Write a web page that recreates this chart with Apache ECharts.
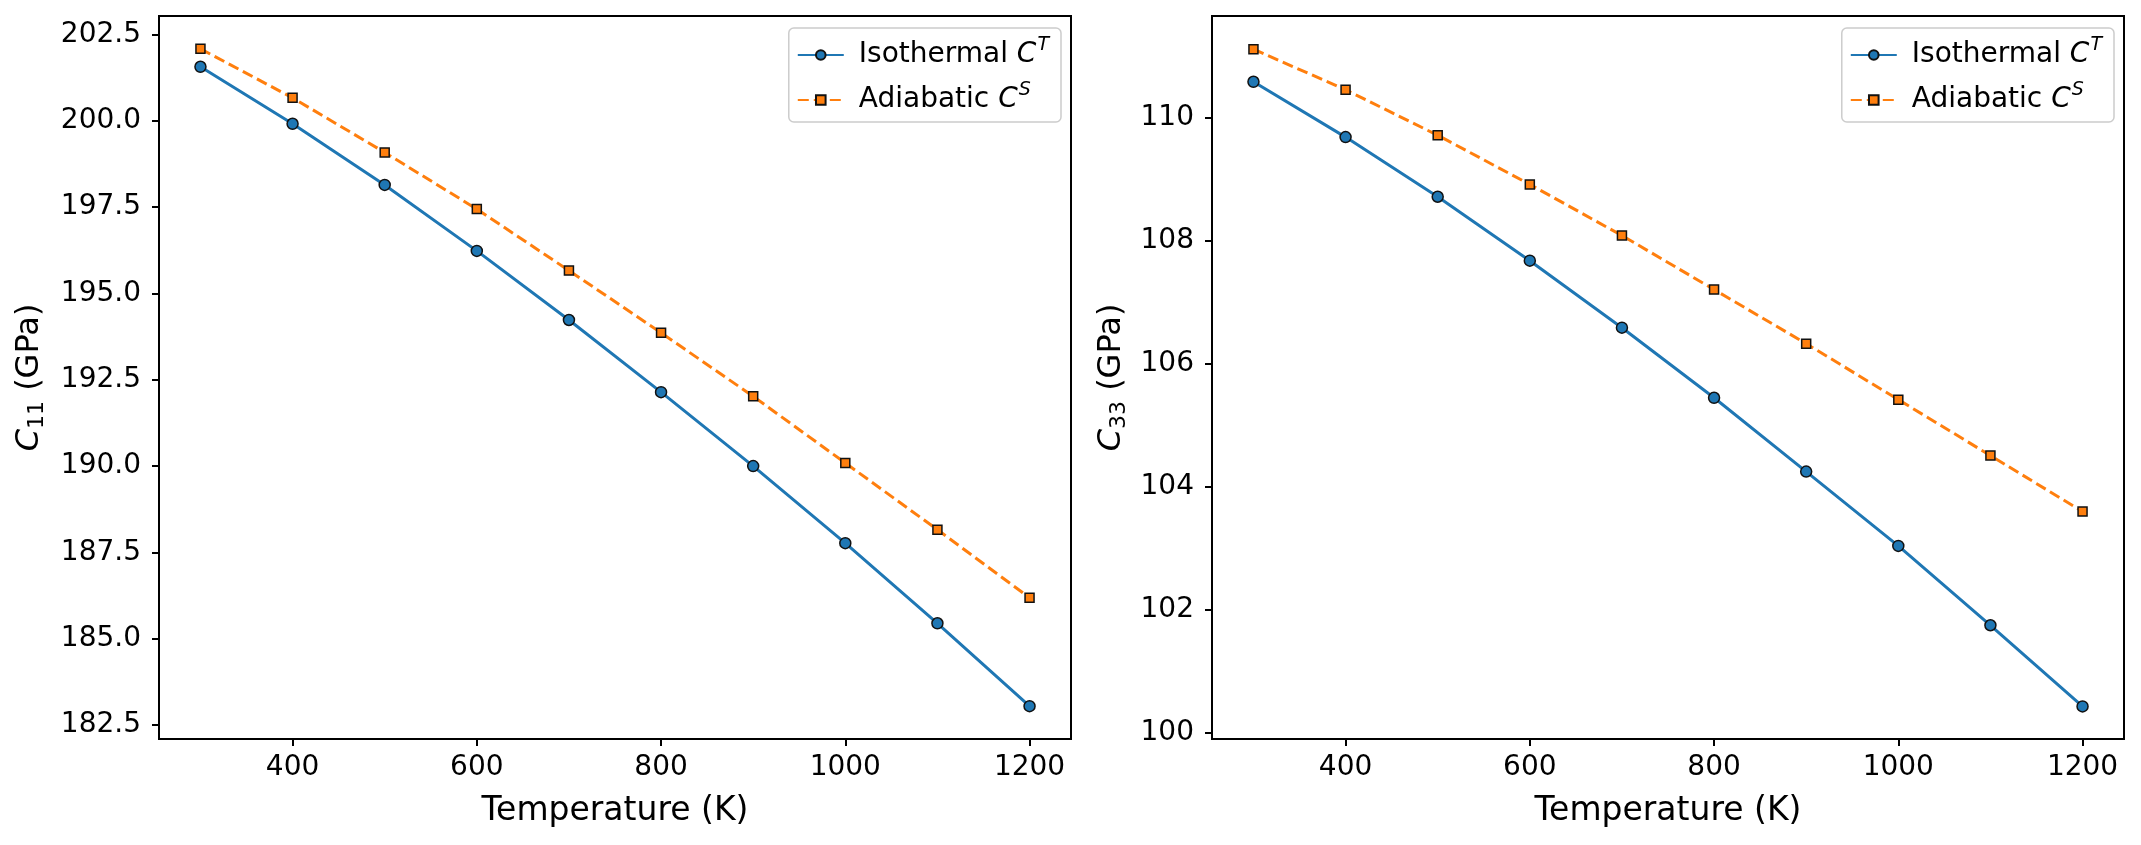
<!DOCTYPE html>
<html>
<head>
<meta charset="utf-8">
<script src="https://cdn.jsdelivr.net/npm/echarts@6/dist/echarts.min.js"></script>
<style>
  html, body { margin: 0; padding: 0; background: #fff; }
  #chart { width: 2141px; height: 845px; }
</style>
</head>
<body>
<div id="chart"></div>
<script>
// temperatures (K)
const temps = [300, 400, 500, 600, 700, 800, 900, 1000, 1100, 1200]
// C11 (GPa)
const c11Iso = [201.56, 199.91, 198.14, 196.23, 194.23, 192.14, 190.0, 187.77, 185.45, 183.05]
const c11Adi = [202.08, 200.66, 199.08, 197.44, 195.66, 193.86, 192.02, 190.09, 188.16, 186.19]
// C33 (GPa)
const c33Iso = [110.59, 109.69, 108.72, 107.68, 106.59, 105.45, 104.25, 103.04, 101.75, 100.43]
const c33Adi = [111.12, 110.46, 109.72, 108.92, 108.09, 107.21, 106.33, 105.42, 104.51, 103.60]
// tick labels
const xTicks = [400, 600, 800, 1000, 1200]
const c11Ticks = [182.5, 185.0, 187.5, 190.0, 192.5, 195.0, 197.5, 200.0, 202.5]
const c33Ticks = [100, 102, 104, 106, 108, 110]

const FONT = 'DejaVu Sans'
const BLUE = '#1f77b4'
const ORANGE = '#ff7f0e'

const pairs = (ys) => temps.map((t, i) => [t, ys[i]])

const chart = echarts.init(document.getElementById('chart'))

function xAxisFor(idx) {
  return {
    type: 'value', gridIndex: idx, min: 255, max: 1245,
    name: 'Temperature (K)', nameLocation: 'middle', nameGap: 56,
    nameTextStyle: { fontFamily: FONT, fontSize: 33, color: '#000' },
    axisLine: { show: false },
    splitLine: { show: false },
    axisTick: { show: true, length: 7, customValues: xTicks, lineStyle: { color: '#000', width: 2 } },
    axisLabel: { customValues: xTicks, margin: 15, fontFamily: FONT, fontSize: 28, color: '#000', formatter: v => String(v) }
  }
}

function yAxisFor(idx, min, max, ticks, sub, digits, gap) {
  return {
    type: 'value', gridIndex: idx, min: min, max: max,
    name: '{c|C}{s|' + sub + '}{t| (GPa)}', nameLocation: 'middle', nameGap: gap,
    nameTextStyle: {
      fontFamily: FONT, fontSize: 32, color: '#000',
      rich: {
        c: { fontFamily: FONT, fontSize: 32, fontStyle: 'italic', color: '#000', lineHeight: 36 },
        s: { fontFamily: FONT, fontSize: 22, color: '#000', verticalAlign: 'bottom', lineHeight: 36, padding: [10, 0, 0, 0] },
        t: { fontFamily: FONT, fontSize: 32, color: '#000', lineHeight: 36 }
      }
    },
    axisLine: { show: false },
    splitLine: { show: false },
    axisTick: { show: true, length: 7, customValues: ticks, lineStyle: { color: '#000', width: 2 } },
    axisLabel: {
      customValues: ticks, margin: 18, fontFamily: FONT, fontSize: 28, color: '#000',
      formatter: v => v.toFixed(digits)
    }
  }
}

function legendFor(pos) {
  return Object.assign({
    orient: 'vertical', top: 28,
    data: ['Isothermal', 'Adiabatic'],
    itemWidth: 46, itemHeight: 12, itemGap: 10,
    backgroundColor: '#fff', borderColor: '#cccccc', borderWidth: 1.5, borderRadius: 5,
    padding: [8, 12, 6, 8],
    formatter: n => n === 'Isothermal' ? '{t|Isothermal }{c|C}{s|T}' : '{t|Adiabatic }{c|C}{s|S}',
    textStyle: {
      fontFamily: FONT, fontSize: 28, color: '#000',
      rich: {
        t: { fontFamily: FONT, fontSize: 28, color: '#000', lineHeight: 38, padding: [0, 0, 0, 10] },
        c: { fontFamily: FONT, fontSize: 28, fontStyle: 'italic', color: '#000', lineHeight: 38 },
        s: { fontFamily: FONT, fontSize: 19, fontStyle: 'italic', color: '#000', verticalAlign: 'top', lineHeight: 38, padding: [0, 0, 16, 1] }
      }
    }
  }, pos)
}

function seriesFor(idx, iso, adi) {
  return [
    {
      name: 'Isothermal', type: 'line', xAxisIndex: idx, yAxisIndex: idx,
      data: pairs(iso), symbol: 'circle', symbolSize: 11,
      lineStyle: { color: BLUE, width: 3 },
      itemStyle: { color: BLUE, borderColor: '#111', borderWidth: 1.5 },
      z: 3
    },
    {
      name: 'Adiabatic', type: 'line', xAxisIndex: idx, yAxisIndex: idx,
      data: pairs(adi), symbol: 'rect', symbolSize: 9,
      lineStyle: { color: ORANGE, width: 3, type: [11, 5] },
      itemStyle: { color: ORANGE, borderColor: '#111', borderWidth: 1.5 },
      z: 2
    }
  ]
}

const option = {
  animation: false,
  backgroundColor: '#fff',
  grid: [
    { left: 159, top: 16, width: 912, height: 723, show: true, borderColor: '#000', borderWidth: 2, backgroundColor: '#fff' },
    { left: 1212, top: 16, width: 912, height: 723, show: true, borderColor: '#000', borderWidth: 2, backgroundColor: '#fff' }
  ],
  xAxis: [xAxisFor(0), xAxisFor(1)],
  yAxis: [
    yAxisFor(0, 182.1, 203.03, c11Ticks, '11', 1, 111),
    yAxisFor(1, 99.9, 111.66, c33Ticks, '33', 0, 82)
  ],
  legend: [legendFor({ right: 1080 }), legendFor({ right: 27 })],
  series: seriesFor(0, c11Iso, c11Adi).concat(seriesFor(1, c33Iso, c33Adi))
}

chart.setOption(option)
</script>
</body>
</html>
